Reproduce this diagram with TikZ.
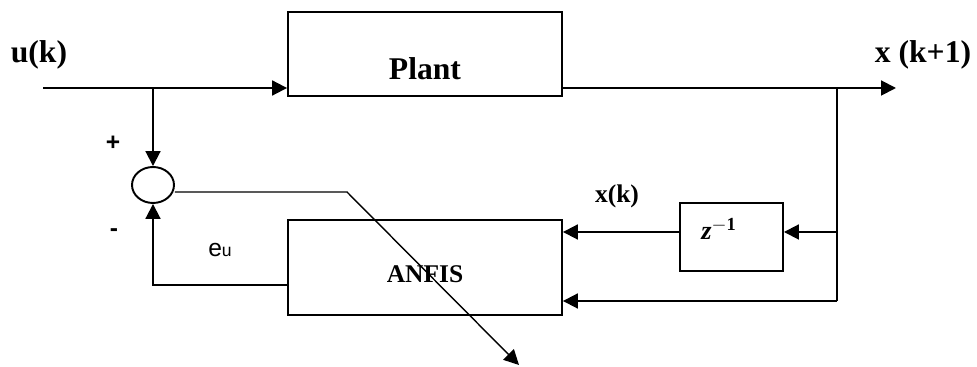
\documentclass[tikz,border=0pt]{standalone}
\usepackage{fontspec}
\setmainfont{Liberation Serif}
\setsansfont{Liberation Sans}
\usetikzlibrary{arrows.meta,shapes.geometric}
\tikzset{
    block/.style={draw, line width=1.1pt, rectangle, inner sep=0pt},
    arr/.style={line width=1.1pt, -{Triangle[length=8.5pt,width=8.5pt]}},
    wire/.style={line width=1.1pt},
    lbl/.style={font=\fontsize{18}{20}\selectfont\bfseries, inner sep=0pt},
    sgn/.style={font=\fontsize{14}{16}\selectfont\sffamily\bfseries, inner sep=0pt}
}
\begin{document}
\begin{tikzpicture}[x=0.02cm,y=-0.02cm]
    \useasboundingbox (0,0) rectangle (977,367);
    % blocks
    \node[block, minimum width=5.48cm, minimum height=1.68cm] (plant) at (425,54) {};
    \node[lbl] (plantlbl) at (425,69) {Plant};
    \node[block, minimum width=5.48cm, minimum height=1.9cm] (anfis) at (425,267.5) {};
    \node[lbl, font=\fontsize{14.5}{16}\selectfont\bfseries] (anfislbl) at (425,274) {ANFIS};
    \node[block, minimum width=2.06cm, minimum height=1.36cm] (zdel) at (731.5,237) {};
    \node[inner sep=0pt, font=\fontsize{15}{17}\selectfont\bfseries] (zlbl) at (719,229) {\textit{z}\textsuperscript{$-$1}};
    \node[draw, ellipse, line width=1.1pt, minimum width=0.84cm, minimum height=0.72cm, inner sep=0pt] (sum) at (153,185) {};
    % signal labels
    \node[lbl] (ulbl) at (39,55) {u(k)};
    \node[lbl] (xlbl) at (923,55) {x (k+1)};
    \node[lbl, font=\fontsize{14.5}{16}\selectfont\bfseries] (xklbl) at (617,196) {x(k)};
    \node[sgn] (plus) at (113,143) {+};
    \node[sgn] (minus) at (114,233) {-};
    \node[inner sep=0pt, font=\sffamily] (eulbl) at (220,250) {{\fontsize{14}{16}\selectfont e}{\fontsize{10}{12}\selectfont u}};
    % points
    \coordinate (uin) at (43,88);
    \coordinate (ubr) at (153,88);
    \coordinate (xbr) at (837,88);
    \coordinate (xout) at (896,88);
    \coordinate (zd) at (837,232);
    \coordinate (xbot) at (837,301);
    \coordinate (fb) at (153,285);
    \coordinate (ebend) at (347,192);
    \coordinate (eend) at (519,365);
    % connectors
    \draw[arr] (uin) -- (uin -| plant.west);
    \draw[arr] (ubr) -- (sum.north);
    \draw[arr] (plant.east |- xbr) -- (xout);
    \draw[wire] (xbr) -- (xbot);
    \draw[arr] (zd) -- (zd -| zdel.east);
    \draw[arr] (zdel.west |- zd) -- (zd -| anfis.east);
    \draw[arr] (xbot) -- (xbot -| anfis.east);
    \draw[arr] (anfis.west |- fb) -- (fb) -- (sum.south);
    \draw[line width=0.8pt, -{Triangle[length=8.5pt,width=8.5pt]}] (sum.east |- ebend) -- (ebend) -- (eend);
\end{tikzpicture}
\end{document}
